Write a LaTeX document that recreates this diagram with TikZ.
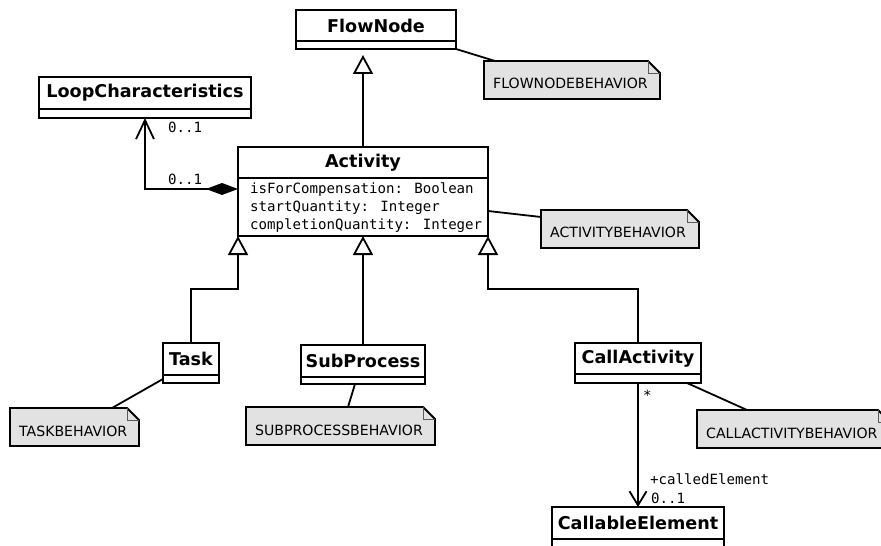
\documentclass[tikz,border=0pt]{standalone}
\usepackage{fontspec}
\setmainfont{DejaVu Sans}
\newfontfamily\umlmono{DejaVu Sans Mono}
\usetikzlibrary{arrows.meta,calc}

\definecolor{notegray}{RGB}{226,226,226}
\definecolor{foldgray}{RGB}{90,90,90}

\tikzset{
  umlline/.style={line width=1.8bp, black},
  clsname/.style={draw, line width=1.8bp, fill=white, inner sep=0pt, outer sep=0pt, anchor=north west,
    font=\fontsize{17.6bp}{20bp}\selectfont\bfseries},
  clsbody/.style={draw, line width=1.8bp, fill=white, inner sep=0pt, outer sep=0pt, anchor=north west},
  notebody/.style={draw=none, fill=none, inner sep=0pt, outer sep=0pt, anchor=north west, minimum height=38bp},
  notetext/.style={inner sep=0pt, anchor=base west, font=\fontsize{14.1bp}{16bp}\selectfont},
  monotext/.style={inner sep=0pt, anchor=base west, align=left,
    font=\umlmono\fontsize{14.1bp}{18bp}\selectfont},
  inherit/.style={umlline, -{Triangle[open, length=19bp, width=20bp]}},
  assoc/.style={umlline, -{Straight Barb[length=14bp, width=17bp]}},
  compose/.style={umlline, {Diamond[length=32bp, width=12bp]}-{Straight Barb[length=19bp, width=18bp]}},
  notelink/.style={umlline},
}

% class box: name, x, y, width, title height, body height, title
\newcommand\umlclass[7]{%
  \node[clsname, minimum width=#4bp, minimum height=#5bp] (#1) at (#2,#3) {#7};
  \node[clsbody, minimum width=#4bp, minimum height=#6bp] (#1-c) at (#1.south west) {};
}

% note with a folded corner: name, x, y, width, text
\newcommand\umlnote[5]{%
  \node[notebody, minimum width=#4bp] (#1) at (#2,#3) {};
  \filldraw[umlline, fill=notegray] (#1.north west) -- ([xshift=-12bp]#1.north east)
    -- ([yshift=-12bp]#1.north east) -- (#1.south east) -- (#1.south west) -- cycle;
  \draw[foldgray, line width=0.9bp] ([xshift=-12bp]#1.north east) |- ([yshift=-12bp]#1.north east);
  \node[notetext] (#1-t) at ($(#1.south west)+(9,-10)$) {#5};
}

\begin{document}
\begin{tikzpicture}[x=1bp, y=-1bp]
\useasboundingbox (0,0) rectangle (881,546);
\clip (0,0) rectangle (881,546);

% classes
\umlclass{flownode}{296}{10}{160}{31}{8}{FlowNode}
\umlclass{loop}{39}{77}{212}{32}{9}{LoopCharacteristics}
\umlclass{activity}{238}{147}{250}{31}{58}{Activity}
% the base anchor of a multi-line node sits on its last line
\node[monotext] (activity-attrs) at ($(activity-c.north west)+(12,52)$)
  {isForCompensation: Boolean\\startQuantity: Integer\\completionQuantity: Integer};
\umlclass{task}{163}{343}{56}{32}{8}{Task}
\umlclass{subprocess}{301}{345}{124}{32}{7}{SubProcess}
\umlclass{callactivity}{575}{343}{126}{31}{9}{CallActivity}
\umlclass{callable}{552}{507}{172}{32}{20}{CallableElement}

% notes
\umlnote{fnnote}{484}{61}{176}{FLOWNODEBEHAVIOR}
\umlnote{actnote}{541}{210}{158}{ACTIVITYBEHAVIOR}
\umlnote{tasknote}{10}{408}{129}{TASKBEHAVIOR}
\umlnote{spnote}{246}{407}{189}{SUBPROCESSBEHAVIOR}
\umlnote{canote}{697}{410}{193}{CALLACTIVITYBEHAVIOR}

% note links
\draw[notelink] (flownode-c.south east) -- ([xshift=11bp]fnnote.north west);
\draw[notelink] ($(activity-c.north east)+(0,33)$) -- ($(actnote.north west)+(0,7)$);
\draw[notelink] (task-c.west) -- ([xshift=102bp]tasknote.north west);
\draw[notelink] ($(subprocess-c.south west)+(54,0)$) -- ([xshift=102bp]spnote.north west);
\draw[notelink] ($(callactivity-c.south west)+(112,0)$) -- ([xshift=50bp]canote.north west);

% generalizations
\draw[inherit, shorten >=6bp] (activity.north) -- (activity.north |- flownode-c.south);
\draw[inherit] (subprocess.north) -- (subprocess.north |- activity-c.south);
\coordinate (taskbend) at ($(activity-c.south west)+(0,53)$);
\coordinate (callbend) at ($(activity-c.south east)+(0,53)$);
\draw[inherit] (task.north) |- (taskbend) -- (activity-c.south west);
\draw[inherit] (callactivity.north) |- (callbend) -- (activity-c.south east);

% composition Activity -> LoopCharacteristics
\coordinate (compstart) at ($(activity-c.north west)+(0,11)$);
\draw[compose] (compstart) -| (loop-c.south);
\node[monotext] (m-loop) at (168,133) {0..1};
\node[monotext] (m-act) at (168,185) {0..1};

% association CallActivity -> CallableElement
\draw[assoc] (callactivity-c.south) -- (callable.north);
\node[monotext] (m-star) at (643,400) {*};
\node[monotext] (m-role) at (650,484) {+calledElement};
\node[monotext] (m-called) at (651,503) {0..1};
\end{tikzpicture}
\end{document}
